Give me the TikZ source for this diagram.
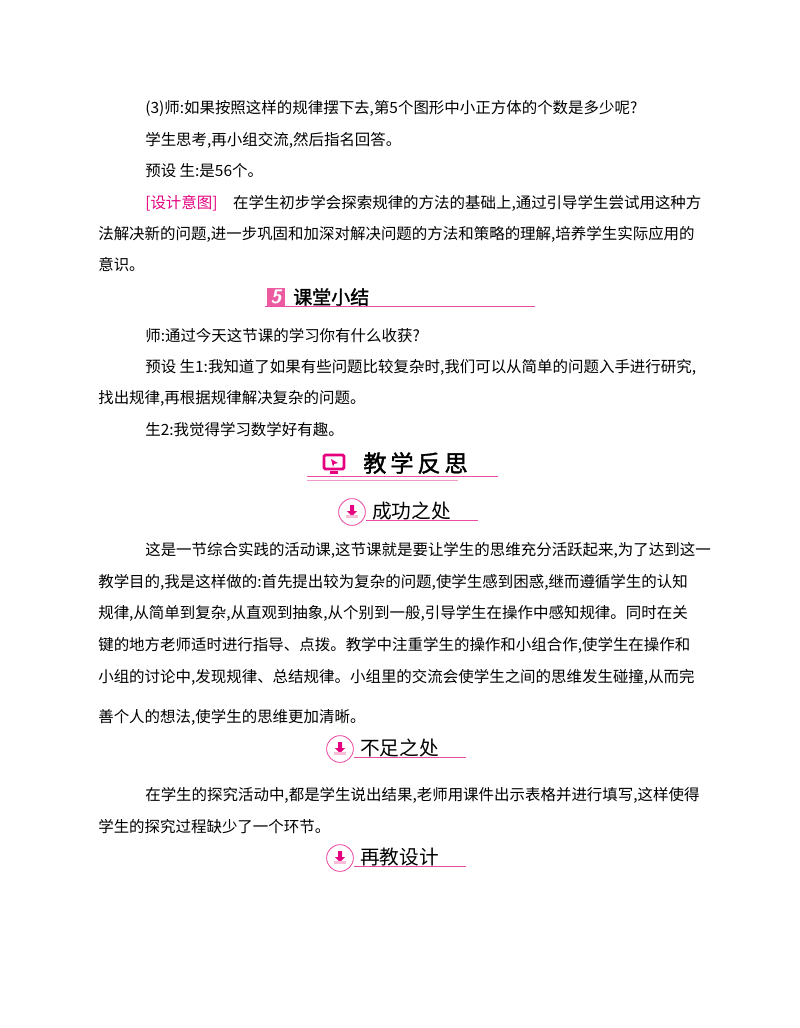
\documentclass[tikz,border=0pt]{standalone}
\usepackage{fontspec}
\setmainfont{Liberation Serif}
\newfontfamily\cjk{Noto Sans CJK SC}
\newfontfamily\cjkb{Noto Sans CJK SC}[FakeBold=1.5]
\usetikzlibrary{positioning}
\definecolor{rosepink}{RGB}{228,0,127}
\definecolor{rosefill}{RGB}{236,90,160}

\begin{document}
\begin{tikzpicture}[
    x=0.025cm, y=-0.025cm,
    body line/.style={anchor=west, inner sep=0pt, font=\cjk\fontsize{11}{13}\selectfont},
    head rule/.style={rosepink!70, line width=0.6pt},
    head text/.style={anchor=west, inner sep=0pt, font=\cjkb\fontsize{13.5}{15}\selectfont}
]
    \useasboundingbox (0,0) rectangle (800,1028);

    % --- body text, part one ---
    \node[body line] (l1) at (145,108) {(3)师:如果按照这样的规律摆下去,第5个图形中小正方体的个数是多少呢?};
    \node[body line] (l2) at (145,140) {学生思考,再小组交流,然后指名回答。};
    \node[body line] (l3) at (145,171) {预设\ 生:是56个。};
    \node[body line] (l4) at (145,203) {{\color{rosepink}[设计意图]}\quad 在学生初步学会探索规律的方法的基础上,通过引导学生尝试用这种方};
    \node[body line] (l5) at (98,234) {法解决新的问题,进一步巩固和加深对解决问题的方法和策略的理解,培养学生实际应用的};
    \node[body line] (l6) at (98,265) {意识。};

    % --- heading: lesson summary ---
    \fill[rosefill] (267,288) rectangle (285,306);
    \node[inner sep=0pt, white, font=\bfseries\itshape\sffamily\fontsize{14}{14}\selectfont] (n5) at (276,297) {5};
    \node[head text] (h1) at (293,297) {课堂小结};
    \draw[head rule] (265,306) -- (535,306);

    \node[body line] (l7) at (145,336) {师:通过今天这节课的学习你有什么收获?};
    \node[body line] (l8) at (145,367) {预设\ 生1:我知道了如果有些问题比较复杂时,我们可以从简单的问题入手进行研究,};
    \node[body line] (l9) at (98,398) {找出规律,再根据规律解决复杂的问题。};
    \node[body line] (l10) at (145,430) {生2:我觉得学习数学好有趣。};

    % --- heading: teaching reflection ---
    \draw[rosepink, line width=2pt, rounded corners=1pt] (324,455) rectangle (344,469);
    \fill[rosepink] (330,471) rectangle (338,474);
    \fill[rosepink] (331,459) -- (338,463) -- (334,464) -- (333,467) -- cycle;
    \node[anchor=west, inner sep=0pt, font=\cjkb\fontsize{16.5}{18}\selectfont] (h2) at (363,463) {教\,学\,反\,思};
    \draw[head rule] (307,476) -- (498,476);
    \draw[rosepink!40, line width=0.6pt] (307,480) -- (458,480);

    % --- heading: successes ---
    \node[circle, draw=rosepink!70, line width=0.6pt, minimum size=19pt, inner sep=0pt] (c1) at (352,512) {};
    \fill[rosepink] (352,512) ++(-2,-7) rectangle ++(4,6) ++(-7,0) -- ++(10,0) -- ++(-5,5) -- cycle;
    \fill[rosefill!40] (346,515) rectangle (358,518);
    \node[head text, font=\cjk\fontsize{14}{15}\selectfont] (h3) at (372,511) {成功之处};
    \draw[head rule] (c1.east) ++(0,8) coordinate (r1) -- (478,520);

    \node[body line] (l11) at (145,550) {这是一节综合实践的活动课,这节课就是要让学生的思维充分活跃起来,为了达到这一};
    \node[body line] (l12) at (98,582) {教学目的,我是这样做的:首先提出较为复杂的问题,使学生感到困惑,继而遵循学生的认知};
    \node[body line] (l13) at (98,613) {规律,从简单到复杂,从直观到抽象,从个别到一般,引导学生在操作中感知规律。同时在关};
    \node[body line] (l14) at (98,645) {键的地方老师适时进行指导、点拨。教学中注重学生的操作和小组合作,使学生在操作和};
    \node[body line] (l15) at (98,677) {小组的讨论中,发现规律、总结规律。小组里的交流会使学生之间的思维发生碰撞,从而完};
    \node[body line] (l16) at (98,717) {善个人的想法,使学生的思维更加清晰。};

    % --- heading: shortcomings ---
    \node[circle, draw=rosepink!70, line width=0.6pt, minimum size=19pt, inner sep=0pt] (c2) at (340,749) {};
    \fill[rosepink] (340,749) ++(-2,-7) rectangle ++(4,6) ++(-7,0) -- ++(10,0) -- ++(-5,5) -- cycle;
    \fill[rosefill!40] (334,752) rectangle (346,755);
    \node[head text, font=\cjk\fontsize{14}{15}\selectfont] (h4) at (360,748) {不足之处};
    \draw[head rule] (c2.east) ++(0,8) coordinate (r2) -- (466,757);

    \node[body line] (l17) at (145,795) {在学生的探究活动中,都是学生说出结果,老师用课件出示表格并进行填写,这样使得};
    \node[body line] (l18) at (98,827) {学生的探究过程缺少了一个环节。};

    % --- heading: redesign ---
    \node[circle, draw=rosepink!70, line width=0.6pt, minimum size=19pt, inner sep=0pt] (c3) at (340,858) {};
    \fill[rosepink] (340,858) ++(-2,-7) rectangle ++(4,6) ++(-7,0) -- ++(10,0) -- ++(-5,5) -- cycle;
    \fill[rosefill!40] (334,861) rectangle (346,864);
    \node[head text, font=\cjk\fontsize{14}{15}\selectfont] (h5) at (360,857) {再教设计};
    \draw[head rule] (c3.east) ++(0,8) coordinate (r3) -- (466,866);
\end{tikzpicture}
\end{document}
